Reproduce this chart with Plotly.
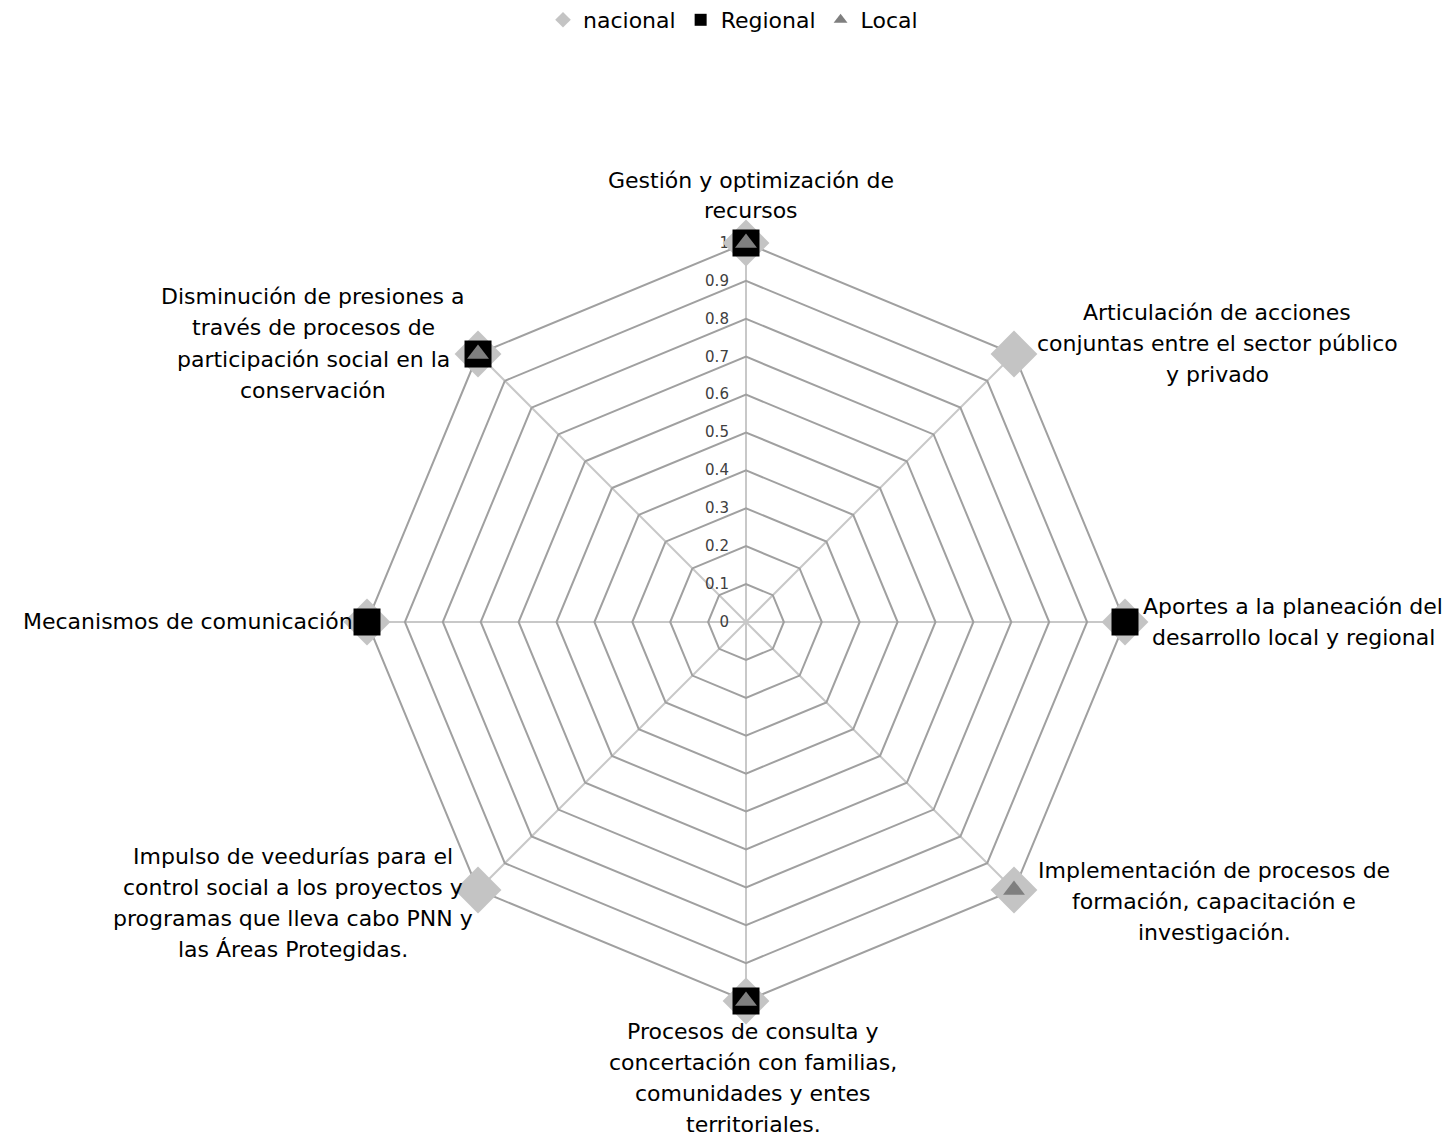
import plotly.graph_objects as go

categories = [
    "Gestión y optimización de recursos",
    "Articulación de acciones conjuntas entre el sector público y privado",
    "Aportes a la planeación del desarrollo local y regional",
    "Implementación de procesos de formación, capacitación e investigación.",
    "Procesos de consulta y concertación con familias, comunidades y entes territoriales.",
    "Impulso de veedurías para el control social a los proyectos y programas que lleva cabo PNN y las Áreas Protegidas.",
    "Mecanismos de comunicación",
    "Disminución de presiones a través de procesos de participación social en la conservación",
]
# wrapped label lines as shown around the chart
label_lines = [
    ["Gestión y optimización de", "recursos"],
    ["Articulación de acciones", "conjuntas entre el sector público", "y privado"],
    ["Aportes a la planeación del", "desarrollo local y regional"],
    ["Implementación de procesos de", "formación, capacitación e", "investigación."],
    ["Procesos de consulta y", "concertación con familias,", "comunidades y entes", "territoriales."],
    ["Impulso de veedurías para el", "control social a los proyectos y", "programas que lleva cabo PNN y", "las Áreas Protegidas."],
    ["Mecanismos de comunicación"],
    ["Disminución de presiones a", "través de procesos de", "participación social en la", "conservación"],
]
nacional = [1, 1, 1, 1, 1, 1, 1, 1]
regional = [1, 0, 1, 0, 1, 0, 1, 1]
local = [1, 0, 0, 1, 1, 0, 0, 1]
radial_ticks = [0, 0.1, 0.2, 0.3, 0.4, 0.5, 0.6, 0.7, 0.8, 0.9, 1]
radial_ticktext = ["0", "0.1", "0.2", "0.3", "0.4", "0.5", "0.6", "0.7", "0.8", "0.9", "1"]

FONT = "DejaVu Sans"
W, H = 1450, 1137

# label layout: centre x and first-line y in pixels, line pitch (layout only)
label_anchor = [(743, 180), (1209, 312), (1285, 606), (1206, 870),
                (745, 1031), (285, 856), (180, 621), (305, 297)]
LINE_PITCH = 31
TEXT_DY = 8  # baseline-centre correction

fig = go.Figure()
fig.add_trace(go.Scatterpolar(
    r=nacional, theta=categories, mode="markers", name="nacional", cliponaxis=False,
    marker=dict(symbol="diamond", size=36, color="#c4c4c4", line=dict(width=0)),
))
fig.add_trace(go.Scatterpolar(
    r=regional, theta=categories, mode="markers", name="Regional", cliponaxis=False,
    marker=dict(symbol="square", size=27, color="#000000", line=dict(width=0)),
))
fig.add_trace(go.Scatterpolar(
    r=local, theta=categories, mode="markers", name="Local", cliponaxis=False,
    marker=dict(symbol="triangle-up", size=19, color="#7f7f7f", line=dict(width=0)),
))

annotations = []
for lines, (px, py) in zip(label_lines, label_anchor):
    for i, line in enumerate(lines):
        yy = py + i * LINE_PITCH - TEXT_DY
        annotations.append(dict(
            text=line, x=px / W, y=1 - yy / H, xref="paper", yref="paper",
            xanchor="center", yanchor="middle", align="center", showarrow=False,
            font=dict(family=FONT, size=22, color="#000000"),
        ))

cx, cy, rad = 745 - 7, 621 - 7, 379
fig.update_layout(
    width=W, height=H,
    margin=dict(l=0, r=0, t=0, b=0, autoexpand=False),
    paper_bgcolor="white",
    font=dict(family=FONT, size=21, color="#000000"),
    showlegend=True,
    legend=dict(orientation="h", x=0.5, xanchor="center",
                yref="container", y=1 - 12 / H, yanchor="middle",
                font=dict(size=22, color="#000000"), itemsizing="constant",
                itemwidth=30),
    annotations=annotations,
    polar=dict(
        domain=dict(x=[(cx - rad) / W, (cx + rad) / W],
                    y=[1 - (cy + rad) / H, 1 - (cy - rad) / H]),
        gridshape="linear",
        bgcolor="white",
        radialaxis=dict(
            range=[0, 1], tickvals=radial_ticks,
            ticktext=[t + "\u00a0\u00a0\u00a0" for t in radial_ticktext],
            angle=90, side="counterclockwise", tickangle=90,
            showline=False, ticks="", layer="below traces",
            gridcolor="#a0a0a0", gridwidth=2,
            tickfont=dict(size=15, color="#404040", family=FONT),
        ),
        angularaxis=dict(
            rotation=90, direction="clockwise",
            showline=True, linecolor="#a0a0a0", linewidth=2,
            gridcolor="#c8c8c8", gridwidth=1.5, layer="below traces",
            ticks="", showticklabels=False,
        ),
    ),
)

fig.write_html("out.html")
